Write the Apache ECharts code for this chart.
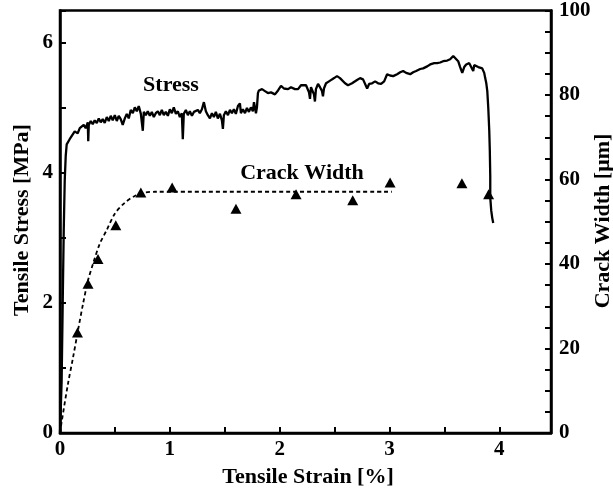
<!DOCTYPE html>
<html><head><meta charset="utf-8">
<script src="https://cdn.jsdelivr.net/npm/echarts/dist/echarts.min.js"></script>
<style>html,body{margin:0;padding:0;background:#fff}#c{width:613px;height:492px}</style>
</head><body><div id="c"></div>
<script>
// Stress-strain curve (strain %, stress MPa)
const strain = [0,0.015,0.025,0.034,0.043,0.052,0.061,0.088,0.134,
0.161,0.180,0.198,0.216,0.234,0.253,0.257,0.262,0.280,0.298,0.316,0.335,0.353,0.371,0.389,0.407,0.426,0.444,0.462,0.480,0.499,0.517,0.535,0.553,0.571,0.590,0.608,0.626,0.644,0.663,0.681,0.699,0.717,0.736,0.754,0.763,0.781,0.799,0.818,0.836,0.854,0.872,0.891,0.909,0.927,0.945,0.963,0.982,1.000,1.018,1.036,1.055,1.073,1.091,1.109,1.118,1.127,1.146,1.164,1.182,1.201,1.219,1.237,1.255,1.273,1.292,1.310,1.328,1.346,1.365,1.383,1.401,1.419,1.437,1.456,1.474,1.483,1.492,1.510,1.529,1.547,1.565,1.583,1.601,1.620,1.638,1.647,1.665,1.684,1.702,1.720,1.738,1.756,1.766,1.784,1.793,
1.802,1.811,1.839,1.866,1.893,1.921,1.957,1.985,2.012,2.039,2.076,2.103,2.139,2.167,2.194,2.212,2.240,2.258,2.267,2.276,2.285,2.303,2.312,2.321,2.330,2.349,2.367,2.385,2.394,2.403,2.422,2.449,2.476,2.495,2.522,2.549,2.567,2.595,2.622,2.640,2.659,2.677,2.704,2.732,2.759,2.777,2.796,2.814,2.841,2.869,2.896,2.923,2.951,2.978,3.005,3.033,3.069,3.097,3.124,3.151,3.188,3.215,3.242,3.279,3.306,3.343,3.370,3.407,3.434,3.461,3.488,3.525,3.552,3.580,3.598,3.625,3.643,3.662,3.680,3.698,3.726,3.744,3.762,3.771,3.789,3.808,3.826,3.844,3.862,3.871,3.881,3.890,3.899,3.908,3.913,3.917,3.917,3.926,3.935,3.944];
const stress = [0,0.81,2.04,3.11,3.88,4.26,4.44,4.52,4.64,
4.61,4.69,4.66,4.74,4.69,4.78,4.49,4.74,4.80,4.75,4.81,4.77,4.84,4.78,4.83,4.77,4.86,4.80,4.88,4.81,4.89,4.80,4.88,4.83,4.74,4.84,4.91,4.84,4.97,4.92,5.01,4.95,5.03,4.91,4.65,4.94,4.89,4.95,4.88,4.94,4.86,4.92,4.95,4.89,4.97,4.89,4.94,4.88,4.98,4.92,5.01,4.91,4.95,4.86,4.92,4.52,4.91,4.97,4.89,4.95,4.88,4.94,4.91,4.97,4.92,4.98,5.09,4.95,4.89,4.84,4.92,4.86,4.94,4.84,4.91,4.81,4.68,4.89,4.95,4.89,4.97,4.92,4.98,4.91,5.03,5.07,4.92,4.98,4.92,5.00,4.94,5.01,4.95,5.09,4.92,5.01,
5.23,5.27,5.29,5.26,5.23,5.24,5.21,5.27,5.34,5.30,5.29,5.32,5.29,5.29,5.35,5.38,5.35,5.37,5.24,5.14,5.32,5.34,5.21,5.10,5.29,5.37,5.32,5.26,5.18,5.30,5.38,5.41,5.44,5.46,5.49,5.46,5.44,5.38,5.35,5.34,5.38,5.40,5.43,5.46,5.44,5.41,5.30,5.37,5.38,5.41,5.38,5.37,5.41,5.52,5.50,5.49,5.52,5.55,5.57,5.54,5.52,5.55,5.57,5.60,5.61,5.64,5.67,5.69,5.69,5.70,5.72,5.73,5.75,5.80,5.77,5.72,5.63,5.54,5.63,5.67,5.69,5.66,5.57,5.66,5.69,5.63,5.60,5.61,5.54,5.46,5.38,5.26,5.00,4.65,4.34,3.95,3.62,3.42,3.31,3.23];

// Crack width measurements (strain %, width µm)
const crackStrain = [0.159,0.255,0.346,0.508,0.736,1.021,1.602,2.149,2.665,3.005,3.659,3.902];
const crackWidth  = [23.8,35.3,41.2,49.2,56.9,58.1,53.1,56.5,55.1,59.3,59.1,56.5];

// Dashed trend line for crack width
const fitStrain = [0,0.013,0.073,0.119,0.164,0.210,0.255,0.301,0.362,0.423,0.499,0.590,0.681,0.772,0.863,3.021];
const fitWidth  = [0,2.3,11.7,17.9,24.3,30.6,36.1,40.1,44.8,47.9,51.9,54.5,56.1,56.9,57.1,57.1];

// Axis ticks
const xTicks = [0,1,2,3,4];
const yLeftTicks = [0,2,4,6];
const yRightTicks = [0,20,40,60,80,100];

const FONT = '"Liberation Serif","Times New Roman",serif';
const zip = (a,b)=>a.map((v,i)=>[v,b[i]]);
const near = (v,list)=>list.some(t=>Math.abs(t-v)<1e-6);

const labelBase = {color:'#000',fontFamily:FONT,fontWeight:'bold',fontSize:21};
const axisLine = {show:true,lineStyle:{color:'#000',width:2.5}};
const axisTick = {show:true,inside:true,length:6,lineStyle:{color:'#000',width:2}};

const chart = echarts.init(document.getElementById('c'),null,{renderer:'canvas'});
chart.setOption({
  animation:false,
  backgroundColor:'#fff',
  grid:{left:60,right:62,top:8,bottom:59,show:true,borderColor:'#000',borderWidth:2.5,backgroundColor:'transparent'},
  xAxis:{type:'value',min:0,max:4.47,interval:0.5,axisLine,axisTick,splitLine:{show:false},
    axisLabel:Object.assign({margin:6,formatter:v=>near(v,xTicks)?String(Math.round(v)):''},labelBase)},
  yAxis:[
    {type:'value',position:'left',min:0,max:6.5,interval:1,axisLine,axisTick,splitLine:{show:false},
     axisLabel:Object.assign({margin:7,formatter:v=>near(v,yLeftTicks)?String(Math.round(v)):''},labelBase)},
    {type:'value',position:'right',min:0,max:100,interval:5,axisLine,axisTick,splitLine:{show:false},
     axisLabel:Object.assign({margin:8,formatter:v=>near(v,yRightTicks)?String(Math.round(v)):''},labelBase)}
  ],
  series:[
    {type:'line',yAxisIndex:0,data:zip(strain,stress),showSymbol:false,symbol:'none',
     lineStyle:{color:'#000',width:2.3,opacity:1},z:3},
    {type:'line',yAxisIndex:1,data:zip(fitStrain,fitWidth),showSymbol:false,symbol:'none',smooth:0.3,
     lineStyle:{color:'#000',width:1.8,type:[4,3],opacity:1},z:2},
    {type:'scatter',yAxisIndex:1,data:zip(crackStrain,crackWidth),symbol:'triangle',symbolSize:[11,10],
     itemStyle:{color:'#000',opacity:1},z:4}
  ],
  graphic:[
    {type:'text',x:308,y:477,style:{text:'Tensile Strain [%]',font:'bold 22px '+FONT,fill:'#000',align:'center',verticalAlign:'middle'}},
    {type:'text',x:22,y:220,rotation:Math.PI/2,style:{text:'Tensile Stress [MPa]',font:'bold 22px '+FONT,fill:'#000',align:'center',verticalAlign:'middle'}},
    {type:'text',x:603,y:221,rotation:Math.PI/2,style:{text:'Crack Width [μm]',font:'bold 22px '+FONT,fill:'#000',align:'center',verticalAlign:'middle'}},
    {type:'text',x:171,y:85,style:{text:'Stress',font:'bold 22px '+FONT,fill:'#000',align:'center',verticalAlign:'middle'}},
    {type:'text',x:302,y:173,style:{text:'Crack Width',font:'bold 22px '+FONT,fill:'#000',align:'center',verticalAlign:'middle'}}
  ]
});
</script>
</body></html>
